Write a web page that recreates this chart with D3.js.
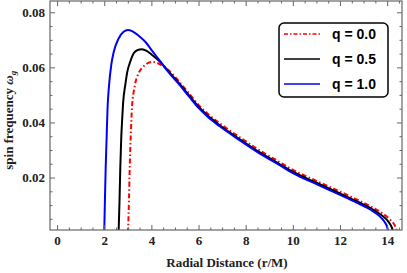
<!DOCTYPE html>
<html>
<head>
<meta charset="utf-8">
<script src="https://cdn.jsdelivr.net/npm/d3@7"></script>
<style>
  body { margin: 0; background: #fff; }
  svg { display: block; }
</style>
</head>
<body>
<div id="chart"></div>
<script>
// chart size
const width = 407;
const height = 273;
const box = { left: 50, right: 402, top: 1, bottom: 230 }; // plot frame

// data: radial distance r/M and spin frequency
const rQ0 = [3.01, 3.05, 3.08, 3.12, 3.18, 3.29, 3.46, 3.60, 3.74, 3.90, 4.05, 4.20, 4.38, 4.70, 5.22, 5.60, 6.00, 6.40, 6.90, 7.77, 8.60, 9.40, 10.0, 11.0, 12.0, 12.7, 13.3, 13.8, 14.15, 14.35, 14.45];
const wQ0 = [0.000, 0.012, 0.023, 0.034, 0.0457, 0.0530, 0.0579, 0.0598, 0.0609, 0.0617, 0.0620, 0.0618, 0.0610, 0.0592, 0.0544, 0.0505, 0.0464, 0.0431, 0.0397, 0.0345, 0.0298, 0.0258, 0.0228, 0.0188, 0.0149, 0.0121, 0.0095, 0.0070, 0.0045, 0.0022, 0.000];

const rQ05 = [2.61, 2.65, 2.68, 2.72, 2.76, 2.80, 2.90, 2.97, 3.10, 3.25, 3.42, 3.60, 3.80, 4.03, 4.38, 4.70, 5.22, 5.60, 6.00, 6.40, 6.90, 7.77, 8.60, 9.40, 10.0, 11.0, 12.0, 12.7, 13.3, 13.75, 14.05, 14.20, 14.26];
const wQ05 = [0.000, 0.012, 0.023, 0.034, 0.041, 0.047, 0.054, 0.058, 0.062, 0.0651, 0.0663, 0.0666, 0.0660, 0.0645, 0.0619, 0.0588, 0.0538, 0.0498, 0.0457, 0.0424, 0.0390, 0.0338, 0.0291, 0.0251, 0.0221, 0.0181, 0.0142, 0.0114, 0.0089, 0.0064, 0.0040, 0.0018, 0.000];

const rQ1 = [2.00, 2.03, 2.06, 2.10, 2.14, 2.20, 2.30, 2.40, 2.61, 2.82, 3.00, 3.20, 3.45, 3.75, 4.05, 4.38, 4.70, 5.22, 5.60, 6.00, 6.40, 6.90, 7.77, 8.60, 9.40, 10.0, 11.0, 12.0, 12.7, 13.3, 13.7, 13.9, 14.0, 14.05];
const wQ1 = [0.000, 0.012, 0.023, 0.034, 0.045, 0.053, 0.061, 0.0655, 0.0705, 0.0729, 0.0736, 0.0731, 0.0716, 0.0692, 0.0658, 0.0622, 0.0585, 0.0534, 0.0494, 0.0453, 0.0420, 0.0386, 0.0334, 0.0287, 0.0247, 0.0216, 0.0176, 0.0137, 0.0109, 0.0083, 0.0058, 0.0038, 0.0020, 0.000];

const seriesNames = ["q = 0.0", "q = 0.5", "q = 1.0"];
const xMajor = [0, 2, 4, 6, 8, 10, 12, 14];
const yMajor = [0.02, 0.04, 0.06, 0.08];
const yLabels = ["0.02", "0.04", "0.06", "0.08"];

const series = [
  { name: seriesNames[0], r: rQ0, w: wQ0, color: "#ff0000", dash: "5,2.5,1.5,2.5" },
  { name: seriesNames[1], r: rQ05, w: wQ05, color: "#000000", dash: null },
  { name: seriesNames[2], r: rQ1, w: wQ1, color: "#0000ff", dash: null }
];

const serif = "'Liberation Serif', 'Times New Roman', serif";

const svg = d3.select("#chart")
  .append("svg")
  .attr("width", width)
  .attr("height", height);

// scales
const xScale = d3.scaleLinear()
  .domain([-0.3, 14.63])
  .range([box.left, box.right]);

const yScale = d3.scaleLinear()
  .domain([0.00095, 0.0841])
  .range([box.bottom, box.top]);

svg.append("clipPath")
  .attr("id", "plot-clip")
  .append("rect")
  .attr("x", box.left)
  .attr("y", box.top)
  .attr("width", box.right - box.left)
  .attr("height", box.bottom - box.top);

// curves
const line = d3.line()
  .x(d => xScale(d[0]))
  .y(d => yScale(d[1]))
  .curve(d3.curveMonotoneX);

svg.append("g")
  .attr("clip-path", "url(#plot-clip)")
  .selectAll("path")
  .data(series)
  .enter()
  .append("path")
  .attr("d", s => line(s.r.map((r, i) => [r, s.w[i]])))
  .attr("fill", "none")
  .attr("stroke", s => s.color)
  .attr("stroke-width", 2)
  .attr("stroke-dasharray", s => s.dash);

// minor tick values
const xMinor = d3.range(0, 14.75, 0.5).filter(v => v % 2 !== 0);
const yMinor = d3.range(0.005, 0.0826, 0.005).filter(v => Math.abs(v / 0.02 - Math.round(v / 0.02)) > 1e-6);

const frameColor = "#666";

function styleAxis(g) {
  g.select(".domain").remove();
  g.selectAll("line").attr("stroke", frameColor).attr("stroke-width", 1);
  g.selectAll("text")
    .style("font-family", serif)
    .style("font-weight", "bold")
    .style("font-size", "13px")
    .attr("fill", "#222");
}

// bottom axis
svg.append("g")
  .attr("transform", `translate(0, ${box.bottom})`)
  .call(d3.axisBottom(xScale).tickValues(xMajor).tickSize(-5).tickPadding(6).tickFormat(d3.format("d")))
  .call(styleAxis);
svg.append("g")
  .attr("transform", `translate(0, ${box.bottom})`)
  .call(d3.axisBottom(xScale).tickValues(xMinor).tickSize(-2.5).tickFormat(""))
  .call(styleAxis);

// top axis (mirror ticks)
svg.append("g")
  .attr("transform", `translate(0, ${box.top})`)
  .call(d3.axisTop(xScale).tickValues(xMajor).tickSize(-5).tickFormat(""))
  .call(styleAxis);
svg.append("g")
  .attr("transform", `translate(0, ${box.top})`)
  .call(d3.axisTop(xScale).tickValues(xMinor).tickSize(-2.5).tickFormat(""))
  .call(styleAxis);

// left axis
svg.append("g")
  .attr("transform", `translate(${box.left}, 0)`)
  .call(d3.axisLeft(yScale).tickValues(yMajor).tickSize(-5).tickPadding(5).tickFormat((d, i) => yLabels[i]))
  .call(styleAxis);
svg.append("g")
  .attr("transform", `translate(${box.left}, 0)`)
  .call(d3.axisLeft(yScale).tickValues(yMinor).tickSize(-2.5).tickFormat(""))
  .call(styleAxis);

// right axis (mirror ticks)
svg.append("g")
  .attr("transform", `translate(${box.right}, 0)`)
  .call(d3.axisRight(yScale).tickValues(yMajor).tickSize(-5).tickFormat(""))
  .call(styleAxis);
svg.append("g")
  .attr("transform", `translate(${box.right}, 0)`)
  .call(d3.axisRight(yScale).tickValues(yMinor).tickSize(-2.5).tickFormat(""))
  .call(styleAxis);

// frame
svg.append("rect")
  .attr("x", box.left)
  .attr("y", box.top)
  .attr("width", box.right - box.left)
  .attr("height", box.bottom - box.top)
  .attr("fill", "none")
  .attr("stroke", frameColor)
  .attr("stroke-width", 1.2);

// x label
svg.append("text")
  .attr("x", 227)
  .attr("y", 267)
  .attr("text-anchor", "middle")
  .style("font-family", serif)
  .style("font-weight", "bold")
  .style("font-size", "13px")
  .attr("fill", "#222")
  .text("Radial Distance (r/M)");

// y label, centred by measuring it
const yLab = svg.append("text")
  .style("font-family", serif)
  .style("font-weight", "bold")
  .style("font-size", "13px")
  .attr("fill", "#222");
yLab.append("tspan").text("spin frequency ");
yLab.append("tspan").style("font-style", "italic").text("ω");
yLab.append("tspan").style("font-style", "italic").style("font-size", "9px").attr("dy", 3).text("g");
const labLen = yLab.node().getBBox().width;
yLab.attr("transform", `translate(13, ${120 + labLen / 2}) rotate(-90)`);

// legend
const legend = svg.append("g")
  .attr("transform", "translate(279, 23)");

legend.append("rect")
  .attr("width", 109)
  .attr("height", 74)
  .attr("rx", 5)
  .attr("fill", "#fff")
  .attr("stroke", "#000")
  .attr("stroke-width", 1.5);

const legendItems = legend.selectAll(".legend-item")
  .data(series)
  .enter()
  .append("g")
  .attr("class", "legend-item")
  .attr("transform", (d, i) => `translate(0, ${11 + i * 25})`);

legendItems.append("line")
  .attr("x1", 5)
  .attr("x2", 41)
  .attr("stroke", d => d.color)
  .attr("stroke-width", 1.5)
  .attr("stroke-dasharray", d => d.dash ? "4,2,1.5,2" : null);

legendItems.append("text")
  .attr("x", 53)
  .attr("y", 5)
  .style("font-family", "'Liberation Sans', Arial, sans-serif")
  .style("font-weight", "bold")
  .style("font-size", "14px")
  .text(d => d.name);
</script>
</body>
</html>
